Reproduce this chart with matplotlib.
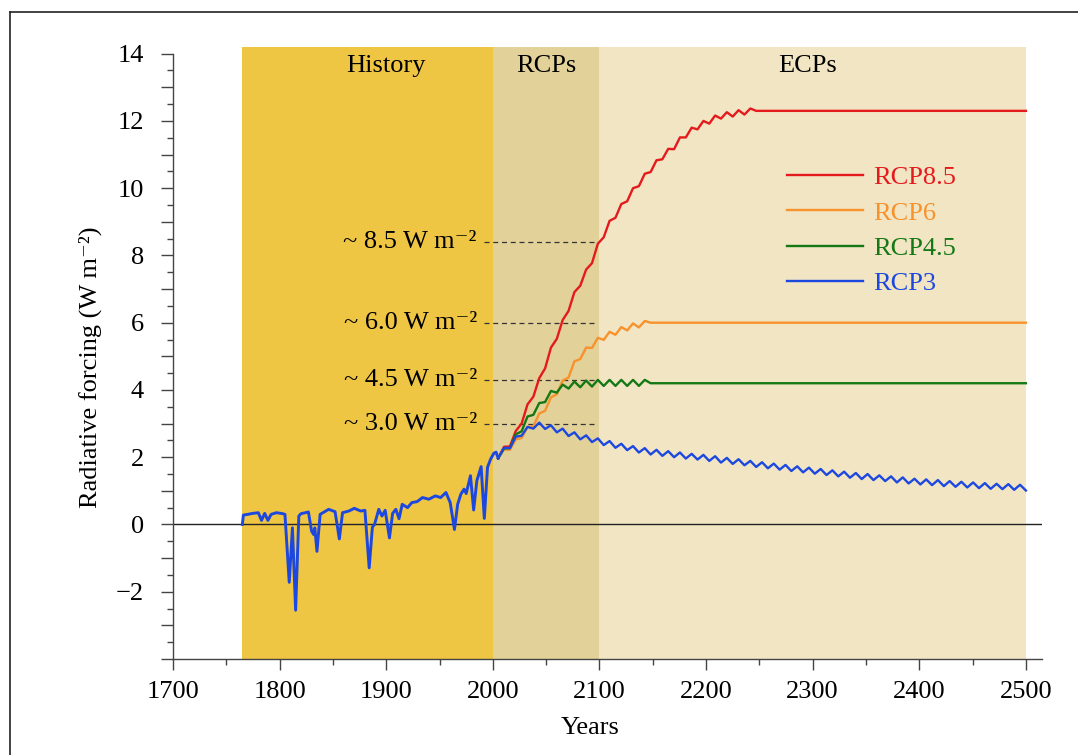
import matplotlib
matplotlib.use('Agg')
import matplotlib.pyplot as plt
import numpy as np
from matplotlib.ticker import MultipleLocator, FuncFormatter
from matplotlib.lines import Line2D

plt.rcParams['font.family'] = ['Liberation Serif', 'DejaVu Serif']

# historical forcing (volcanic dips included)
hist_years = [1765, 1766, 1770, 1775, 1780, 1783, 1786, 1789, 1792, 1797, 1803, 1805,
              1809, 1812, 1815, 1818, 1820, 1827, 1830, 1832, 1833, 1835, 1838, 1846,
              1852, 1856, 1859, 1865, 1870, 1876, 1880, 1884, 1887, 1889, 1893, 1896,
              1899, 1903, 1906, 1909, 1912, 1915, 1920, 1924, 1929, 1934, 1940, 1946,
              1951, 1956, 1960, 1964, 1967, 1970, 1973, 1975, 1979, 1982, 1985, 1989,
              1992, 1995, 1998, 2001, 2003, 2005]
hist_vals = [0.0, 0.28, 0.3, 0.33, 0.35, 0.12, 0.33, 0.12, 0.3, 0.35, 0.32, 0.3,
             -1.72, -0.1, -2.55, 0.25, 0.32, 0.37, -0.2, -0.3, -0.1, -0.8, 0.3, 0.45,
             0.38, -0.43, 0.35, 0.4, 0.48, 0.4, 0.42, -1.29, -0.08, 0.0, 0.45, 0.25,
             0.42, -0.4, 0.33, 0.45, 0.17, 0.6, 0.5, 0.65, 0.68, 0.8, 0.75, 0.85,
             0.8, 0.95, 0.65, -0.15, 0.6, 0.9, 1.05, 0.92, 1.45, 0.43, 1.3, 1.72,
             0.18, 1.7, 1.95, 2.12, 2.15, 1.97]

# projections: one value every 5.5 years from 2005 (solar-cycle peaks / troughs)
proj_start = 2005
proj_step = 5.5
rcp85 = [1.97, 2.31, 2.32, 2.78, 3.00, 3.57, 3.80, 4.35, 4.64, 5.26, 5.52, 6.08,
         6.35, 6.91, 7.10, 7.58, 7.77, 8.35, 8.54, 9.03, 9.12, 9.53, 9.61, 10.00,
         10.06, 10.43, 10.48, 10.83, 10.86, 11.17, 11.16, 11.51, 11.51, 11.80, 11.75,
         12.00, 11.92, 12.16, 12.07, 12.26, 12.13, 12.32, 12.19, 12.37, 12.30]
rcp6 = [1.97, 2.23, 2.22, 2.53, 2.57, 2.90, 2.92, 3.30, 3.38, 3.78, 3.87, 4.28,
        4.37, 4.85, 4.92, 5.26, 5.25, 5.55, 5.49, 5.73, 5.64, 5.87, 5.77, 5.98,
        5.86, 6.05, 6.00]
rcp45 = [1.97, 2.26, 2.27, 2.68, 2.77, 3.21, 3.26, 3.61, 3.64, 3.97, 3.92, 4.16,
         4.04, 4.25, 4.08, 4.28, 4.10, 4.30, 4.12, 4.30, 4.12, 4.30, 4.12, 4.30,
         4.12, 4.30, 4.20]
rcp3 = [1.97, 2.28, 2.27, 2.61, 2.64, 2.90, 2.85, 3.03, 2.84, 2.95, 2.74, 2.85,
        2.63, 2.74, 2.53, 2.65, 2.45, 2.56, 2.36, 2.48, 2.28, 2.40, 2.21, 2.33,
        2.14, 2.27, 2.08, 2.22, 2.04, 2.18, 2.00, 2.14, 1.96, 2.10, 1.93, 2.07,
        1.89, 2.03, 1.84, 1.98, 1.80, 1.94, 1.76, 1.89, 1.71, 1.85, 1.67, 1.81,
        1.63, 1.77, 1.59, 1.73, 1.55, 1.69, 1.51, 1.65, 1.47, 1.61, 1.43, 1.57,
        1.39, 1.53, 1.35, 1.50, 1.32, 1.46, 1.29, 1.43, 1.25, 1.40, 1.22, 1.36,
        1.19, 1.34, 1.17, 1.32, 1.14, 1.29, 1.12, 1.27, 1.10, 1.25, 1.08, 1.23,
        1.06, 1.21, 1.05, 1.20, 1.03, 1.18, 1.01]
end_year = 2500
rcp_names = ['RCP8.5', 'RCP6', 'RCP4.5', 'RCP3']
rcp_series = [rcp85, rcp6, rcp45, rcp3]
rcp_flat = [12.3, 6.0, 4.2, None]   # value held constant up to 2500
rcp_colors = ['#E41A1C', '#F7922C', '#147814', '#1C48E0']

periods = ['History', 'RCPs', 'ECPs']
period_bounds = [(1765, 2000), (2000, 2100), (2100, 2500)]
period_colors = ['#EFC544', '#E2D199', '#F2E5C4']
period_label_x = [1900, 2050, 2295]

level_vals = [8.4, 6.0, 4.3, 3.0]
level_text = ['8.5', '6.0', '4.5', '3.0']

fig = plt.figure(figsize=(10.78, 7.55), dpi=100)
ax = fig.add_axes([0.1605, 0.1272, 0.806, 0.8106])

for (x0, x1), c, name, lx in zip(period_bounds, period_colors, periods, period_label_x):
    ax.axvspan(x0, x1, color=c, lw=0, zorder=0)
    ax.text(lx, 13.47, name, ha='center', va='baseline', fontsize=19, zorder=5)

ax.axhline(0, color='#222222', lw=1.0, zorder=2)

ax.plot(hist_years, hist_vals, color=rcp_colors[3], lw=2.1, zorder=4)
for name, vals, flat, col in zip(rcp_names, rcp_series, rcp_flat, rcp_colors):
    yrs = proj_start + proj_step * np.arange(len(vals))
    if flat is not None:
        yrs = np.append(yrs, end_year)
        vals = vals + [flat]
    ax.plot(yrs, vals, color=col, lw=1.7, label=name, zorder=3)

for v, t in zip(level_vals, level_text):
    ax.plot([1992, 2097], [v, v], color='#333333', lw=0.9, ls=(0, (4, 3)), zorder=2)
    ax.text(1985, v, '~ ' + t + ' W m\u207b\u00b2', ha='right', va='center', fontsize=19)

ax.set_xlim(1700, 2515)
ax.set_ylim(-4, 14.2)
ax.spines['top'].set_visible(False)
ax.spines['right'].set_visible(False)
ax.spines['left'].set_bounds(-4, 14)
for s in ['left', 'bottom']:
    ax.spines[s].set_color('#444444')
    ax.spines[s].set_linewidth(1.0)

ax.xaxis.set_major_locator(MultipleLocator(100))
ax.xaxis.set_minor_locator(MultipleLocator(50))
ax.yaxis.set_major_locator(MultipleLocator(1))
ax.yaxis.set_minor_locator(MultipleLocator(0.5))
ax.yaxis.set_major_formatter(FuncFormatter(
    lambda v, p: ('%d' % v).replace('-', '\u2212') if (int(round(v)) % 2 == 0 and v > -3.5) else ''))
ax.tick_params(axis='both', which='major', direction='out', color='#444444',
               width=1.0, labelsize=19)
ax.tick_params(axis='x', which='major', length=8, pad=8)
ax.tick_params(axis='y', which='major', length=9, pad=12)
ax.tick_params(axis='both', which='minor', direction='out', color='#444444',
               width=1.0, length=4.5)

ax.set_xlabel('Years', fontsize=19)
ax.xaxis.set_label_coords(0.48, -0.095)
ax.set_ylabel('Radiative forcing (W m\u207b\u00b2)', fontsize=19)
ax.yaxis.set_label_coords(-0.082, 0.476)

leg = ax.legend(loc='center left', bbox_to_anchor=(0.691, 0.70), frameon=False,
                fontsize=19, handlelength=2.9, handletextpad=0.4, labelspacing=0.45,
                labelcolor='linecolor', borderpad=0)

# outer frame
fig.add_artist(Line2D([10 / 1078, 1], [1 - 12 / 755] * 2, transform=fig.transFigure,
                      color='#222222', lw=1.2))
fig.add_artist(Line2D([10 / 1078] * 2, [0, 1 - 12 / 755], transform=fig.transFigure,
                      color='#222222', lw=1.2))

plt.savefig('out.png', dpi=100)
